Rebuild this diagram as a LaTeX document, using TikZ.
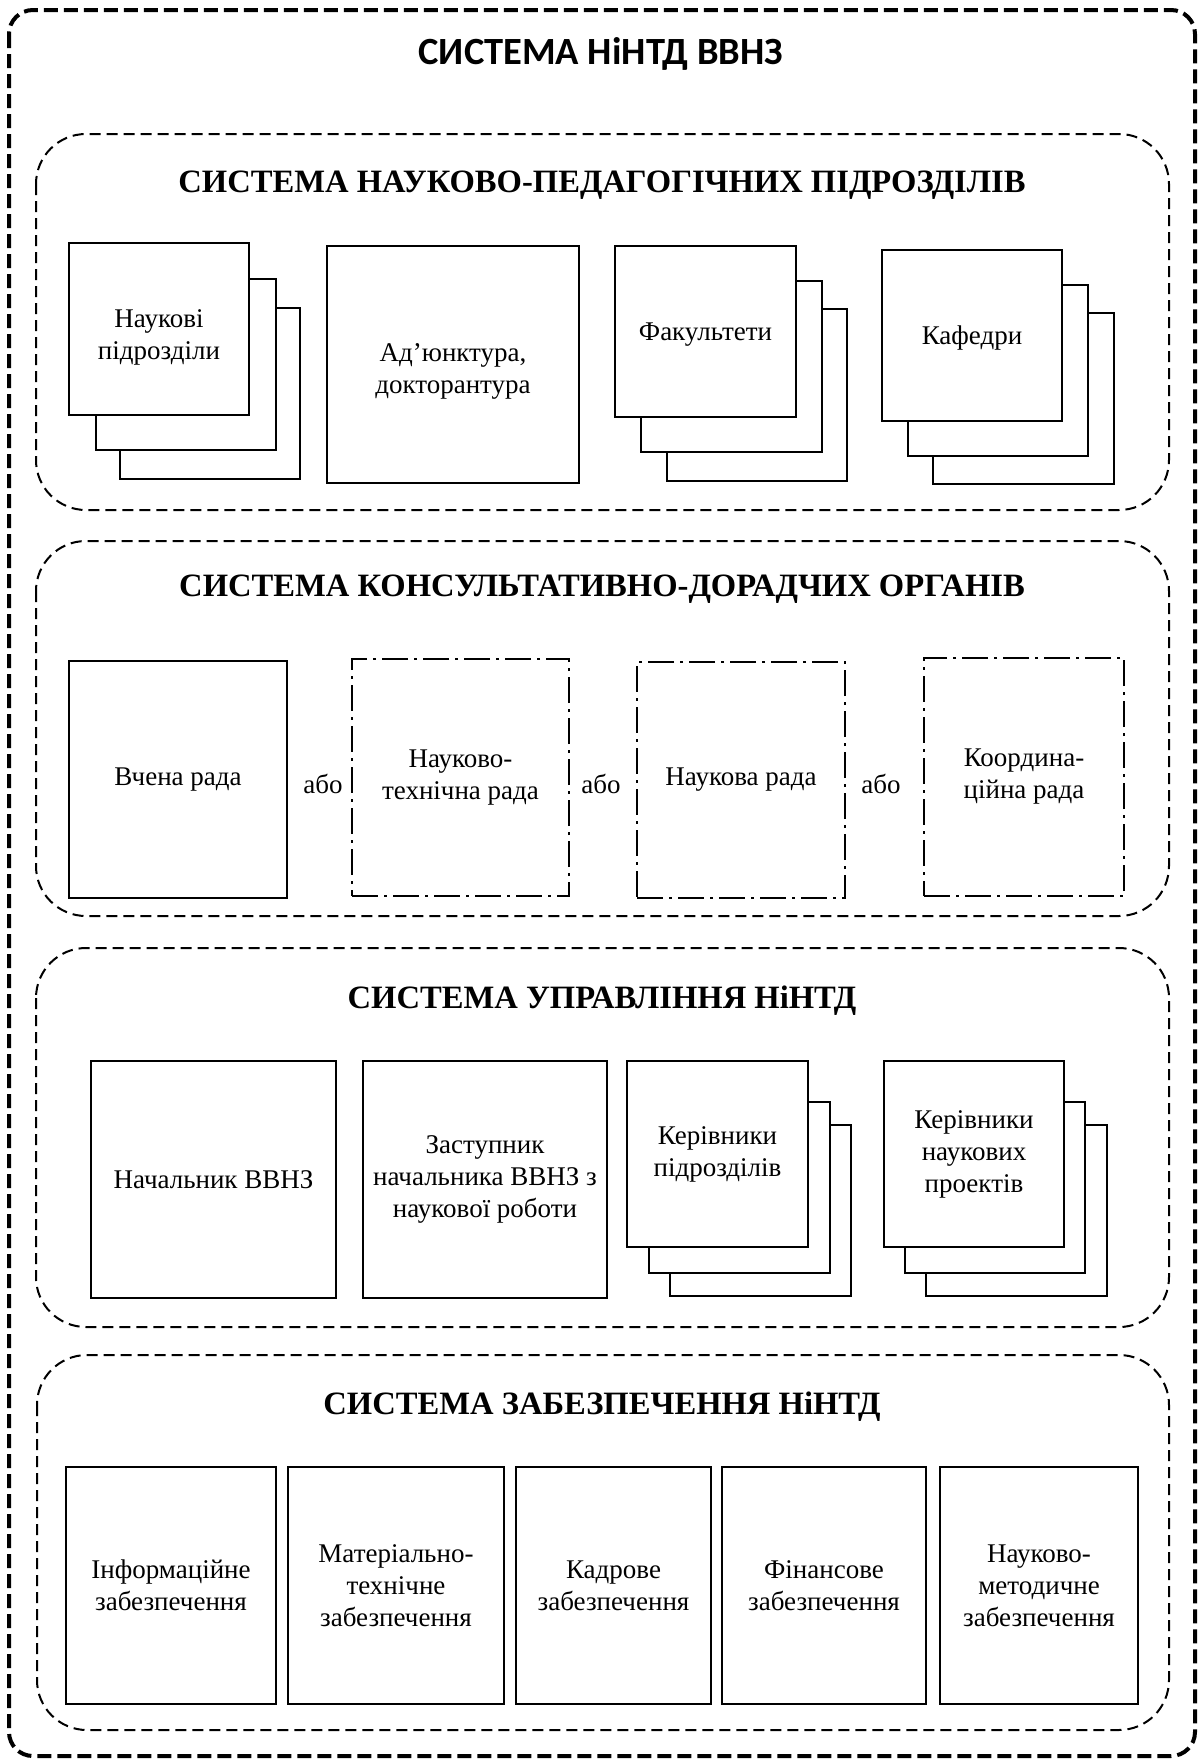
\documentclass[tikz,border=0pt]{standalone}
\usepackage{fontspec}
\setmainfont{Liberation Serif}
\newfontfamily\calibfont{Carlito}
\newcommand\bodyf{\fontsize{27}{32}\selectfont}
\newcommand\secf{\fontsize{32.6}{38}\selectfont\bfseries}
\newcommand\mainf{\calibfont\fontsize{38.5}{44}\selectfont\bfseries}
% style, name, x1, y1, x2, y2, text
\newcommand\mybox[7]{\node[#1, minimum width={#5-#3}, minimum height={#6-#4}] (#2) at ({(#3+#5)/2},{(#4+#6)/2}) {#7};}
\begin{document}
\begin{tikzpicture}[x=1pt,y=-1pt,
  outerframe/.style={draw, line width=4pt, dash pattern=on 14pt off 6pt, rounded corners=24pt},
  secframe/.style={draw, line width=2pt, dash pattern=on 11pt off 6pt, rounded corners=50pt},
  box/.style={draw, line width=2.6pt, fill=white, align=center, font=\bodyf, inner sep=0pt},
  ddbox/.style={box, line width=2.2pt, dash pattern=on 26pt off 6pt on 3pt off 6pt},
  sectitle/.style={anchor=base, font=\secf},
  orlabel/.style={anchor=base, font=\bodyf}]
\useasboundingbox (0,0) rectangle (1200,1762);
\draw[outerframe] (9,10) rectangle (1195,1756);
\node[anchor=base, font=\mainf] (title) at (601,64) {СИСТЕМА НіНТД ВВНЗ};

% Section 1
\draw[secframe] (36,134) rectangle (1169,510);
\node[sectitle] (t1) at (602,192) {СИСТЕМА НАУКОВО-ПЕДАГОГІЧНИХ ПІДРОЗДІЛІВ};
\mybox{box}{nb2}{120}{308}{300}{479}{}
\mybox{box}{nb1}{96}{279}{276}{450}{}
\mybox{box}{nb}{69}{243}{249}{415}{\rule{0pt}{35pt}Наукові\\підрозділи}
\mybox{box}{ad}{327}{246}{579}{483}{\rule{0pt}{32pt}Ад’юнктура,\\докторантура}
\mybox{box}{fb2}{667}{309}{847}{481}{}
\mybox{box}{fb1}{641}{281}{822}{452}{}
\mybox{box}{fb}{615}{246}{796}{417}{\rule{0pt}{24pt}Факультети}
\mybox{box}{kb2}{933}{313}{1114}{484}{}
\mybox{box}{kb1}{908}{285}{1088}{456}{}
\mybox{box}{kb}{882}{250}{1062}{421}{\rule{0pt}{24pt}Кафедри}

% Section 2
\draw[secframe] (36,541) rectangle (1169,916);
\node[sectitle] (t2) at (602,596) {СИСТЕМА КОНСУЛЬТАТИВНО-ДОРАДЧИХ ОРГАНІВ};
\mybox{box}{vr}{69}{661}{287}{898}{Вчена рада}
\mybox{ddbox}{ntr}{352}{659}{569}{896}{Науково-\\технічна рада}
\mybox{ddbox}{nr}{637}{662}{845}{898}{Наукова рада}
\mybox{ddbox}{kr}{924}{658}{1124}{896}{Координа-\\ційна рада}
\node[orlabel] (or1) at (323,793) {або};
\node[orlabel] (or2) at (601,793) {або};
\node[orlabel] (or3) at (881,793) {або};

% Section 3
\draw[secframe] (36,948) rectangle (1169,1327);
\node[sectitle] (t3) at (602,1008) {СИСТЕМА УПРАВЛІННЯ НіНТД};
\mybox{box}{nach}{91}{1061}{336}{1298}{Начальник ВВНЗ}
\mybox{box}{zast}{363}{1061}{607}{1298}{Заступник\\начальника ВВНЗ з\\наукової роботи}
\mybox{box}{kp2}{670}{1125}{851}{1296}{}
\mybox{box}{kp1}{649}{1102}{830}{1273}{}
\mybox{box}{kp}{627}{1061}{808}{1247}{Керівники\\підрозділів}
\mybox{box}{kn2}{926}{1125}{1107}{1296}{}
\mybox{box}{kn1}{905}{1102}{1085}{1273}{}
\mybox{box}{kn}{884}{1061}{1064}{1247}{Керівники\\наукових\\проектів}

% Section 4
\draw[secframe] (37,1355) rectangle (1169,1730);
\node[sectitle] (t4) at (602,1414) {СИСТЕМА ЗАБЕЗПЕЧЕННЯ НіНТД};
\mybox{box}{inf}{66}{1467}{276}{1704}{Інформаційне\\забезпечення}
\mybox{box}{mat}{288}{1467}{504}{1704}{Матеріально-\\технічне\\забезпечення}
\mybox{box}{kad}{516}{1467}{711}{1704}{Кадрове\\забезпечення}
\mybox{box}{fin}{722}{1467}{926}{1704}{Фінансове\\забезпечення}
\mybox{box}{nm}{940}{1467}{1138}{1704}{Науково-\\методичне\\забезпечення}
\end{tikzpicture}
\end{document}
